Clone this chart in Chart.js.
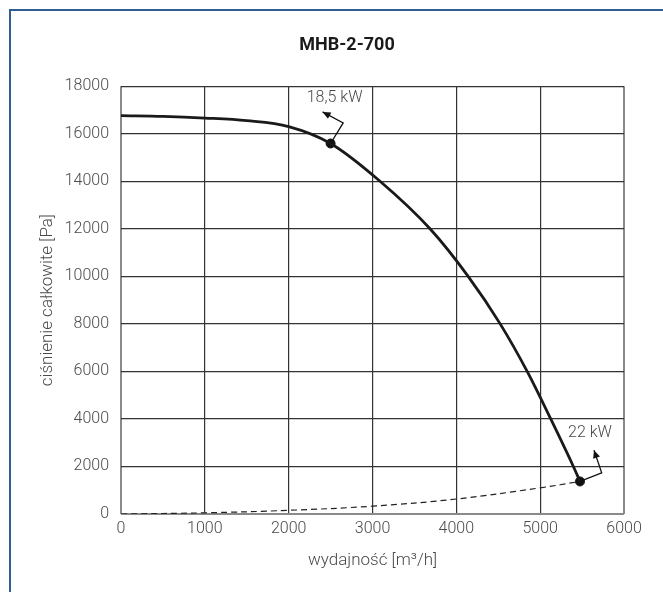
<!DOCTYPE html>
<html>
<head>
<meta charset="utf-8">
<title>MHB-2-700</title>
<script src="https://cdn.jsdelivr.net/npm/chart.js@4.4.1/dist/chart.umd.min.js"></script>
<style>
  html, body { margin: 0; padding: 0; background: #fff; overflow: hidden; }
  #frame {
    position: absolute; left: 9px; top: 9px; width: 700px; height: 640px;
    border-top: 2px solid #2d5f93; border-left: 2px solid #2d5f93;
  }
  #wrap { position: absolute; left: 0; top: 0; width: 663px; height: 592px; }
</style>
</head>
<body>
<div id="frame"></div>
<div id="wrap"><canvas id="chart"></canvas></div>
<script>
// wartości
const flowRate     = [0, 500, 1000, 1500, 2000, 2500, 3090, 3686, 4141, 4523, 4845, 5126, 5396, 5475];
const fanPressure  = [16760, 16730, 16660, 16550, 16300, 15590, 14000, 12000, 10000, 8000, 6000, 4000, 2000, 1370];

const systemFlow     = [0, 1000, 2000, 3000, 4000, 5000, 5475];
const systemPressure = [0, 50, 155, 330, 630, 1100, 1370];

const motorFlow     = [2500, 5475];
const motorPressure = [15590, 1370];
const motorLabels   = ['18,5 kW', '22 kW'];

const xTicks = [0, 1000, 2000, 3000, 4000, 5000, 6000];
const yTicks = [0, 2000, 4000, 6000, 8000, 10000, 12000, 14000, 16000, 18000];

const FONT = 'Roboto, "DejaVu Sans", sans-serif';
const TEXT = '#4a4a4a';

// strzałki przy punktach mocy silnika (przesunięcia w px względem punktu)
const arrowStyle = [
  { elbow: [12.6, -20.6], tip: [-8, -31.6], label: [4, -45] },
  { elbow: [21.7, -8.6],  tip: [14, -31.3], label: [10, -48] }
];

const motorArrows = {
  id: 'motorArrows',
  afterDatasetsDraw(chart) {
    const ctx = chart.ctx;
    const meta = chart.getDatasetMeta(2);
    ctx.save();
    meta.data.forEach((pt, i) => {
      const s = arrowStyle[i];
      const ex = pt.x + s.elbow[0], ey = pt.y + s.elbow[1];
      const tx = pt.x + s.tip[0], ty = pt.y + s.tip[1];
      ctx.strokeStyle = '#111';
      ctx.lineWidth = 1.3;
      ctx.beginPath();
      ctx.moveTo(pt.x, pt.y);
      ctx.lineTo(ex, ey);
      ctx.lineTo(tx, ty);
      ctx.stroke();
      // grot
      const ang = Math.atan2(ty - ey, tx - ex);
      const len = 8, half = 3.6;
      ctx.fillStyle = '#111';
      ctx.beginPath();
      ctx.moveTo(tx, ty);
      ctx.lineTo(tx - len * Math.cos(ang) + half * Math.sin(ang), ty - len * Math.sin(ang) - half * Math.cos(ang));
      ctx.lineTo(tx - len * Math.cos(ang) - half * Math.sin(ang), ty - len * Math.sin(ang) + half * Math.cos(ang));
      ctx.closePath();
      ctx.fill();
      // opis
      ctx.font = '300 16px ' + FONT;
      ctx.fillStyle = TEXT;
      ctx.textAlign = 'center';
      ctx.textBaseline = 'middle';
      ctx.fillText(motorLabels[i], pt.x + s.label[0], pt.y + s.label[1]);
    });
    ctx.restore();
  }
};

const edgeColor = '#8a8a8a';
const gridColor = '#333';

new Chart(document.getElementById('chart'), {
  type: 'line',
  data: {
    datasets: [
      {
        label: 'charakterystyka',
        data: flowRate.map((q, i) => ({ x: q, y: fanPressure[i] })),
        borderColor: '#1a1a1a',
        borderWidth: 2.8,
        pointRadius: 0,
        cubicInterpolationMode: 'monotone',
        fill: false
      },
      {
        label: 'sieć',
        data: systemFlow.map((q, i) => ({ x: q, y: systemPressure[i] })),
        borderColor: '#222',
        borderWidth: 1.2,
        borderDash: [6, 4],
        pointRadius: 0,
        tension: 0.4,
        fill: false
      },
      {
        label: 'moc',
        type: 'scatter',
        data: motorFlow.map((q, i) => ({ x: q, y: motorPressure[i] })),
        pointRadius: 4.5,
        pointBackgroundColor: '#111',
        pointBorderColor: '#111',
        showLine: false
      }
    ]
  },
  options: {
    responsive: true,
    maintainAspectRatio: false,
    animation: false,
    layout: { padding: { left: 31, right: 0, top: 0, bottom: 0 } },
    plugins: {
      legend: { display: false },
      tooltip: { enabled: false },
      title: {
        display: true,
        text: 'MHB-2-700',
        color: '#1a1a1a',
        font: { family: FONT, size: 18, weight: 'bold' },
        padding: { top: 35, bottom: 29.6 }
      }
    },
    scales: {
      x: {
        type: 'linear',
        min: 0,
        max: 6000,
        afterBuildTicks: s => { s.ticks = xTicks.map(v => ({ value: v })); },
        afterFit: s => { s.height = 78; s.paddingRight = 39; },
        border: { display: false },
        grid: {
          drawTicks: false,
          color: c => (c.tick.value === 0 || c.tick.value === 6000) ? edgeColor : gridColor,
          lineWidth: c => (c.tick.value === 0 || c.tick.value === 6000) ? 2 : 1.2
        },
        ticks: {
          padding: 5,
          color: TEXT,
          font: { family: FONT, size: 16, weight: 300 },
          callback: v => String(v)
        },
        title: {
          display: true,
          text: 'wydajność [m³/h]',
          color: TEXT,
          font: { family: FONT, size: 17, weight: 300 },
          padding: { top: 0, bottom: 21 }
        }
      },
      y: {
        min: 0,
        max: 18000,
        afterBuildTicks: s => { s.ticks = yTicks.map(v => ({ value: v })); },
        afterFit: s => { s.width = 90; },
        border: { display: false },
        grid: {
          drawTicks: false,
          color: c => c.tick.value === 0 ? edgeColor : gridColor,
          lineWidth: c => c.tick.value === 0 ? 2 : 1.2
        },
        ticks: {
          padding: 12,
          color: TEXT,
          font: { family: FONT, size: 16, weight: 300 },
          callback: v => String(v)
        },
        title: {
          display: true,
          text: 'ciśnienie całkowite [Pa]',
          color: TEXT,
          font: { family: FONT, size: 17, weight: 300 },
          padding: { top: 7, bottom: 0 }
        }
      }
    }
  },
  plugins: [motorArrows]
});
</script>
</body>
</html>
